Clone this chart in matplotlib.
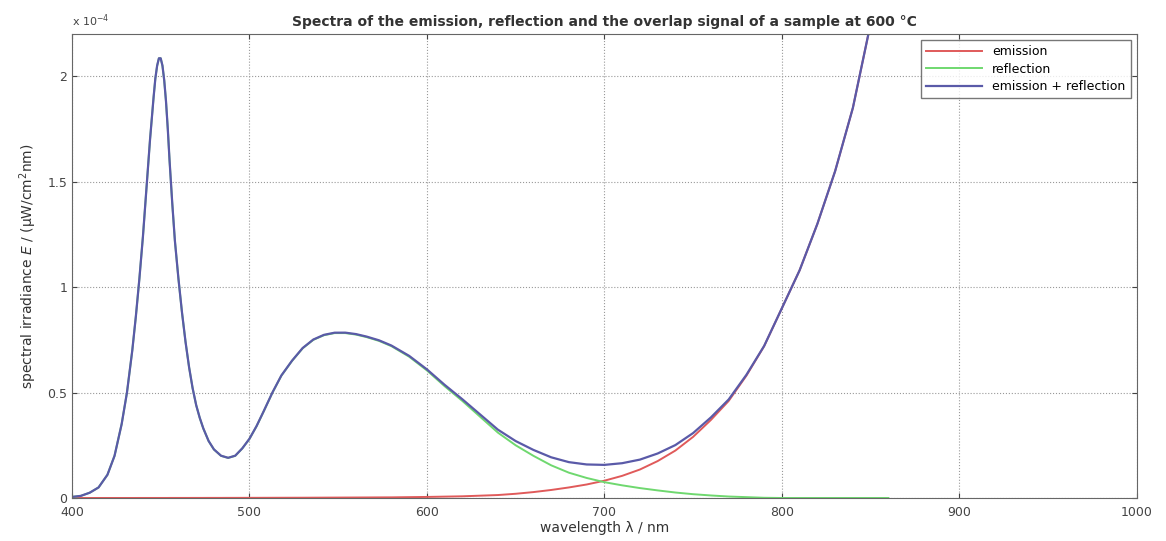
import numpy as np
import matplotlib
matplotlib.use("Agg")
import matplotlib.pyplot as plt

# wavelength grid (nm) and spectra in units of 1e-4 uW/(cm^2 nm)
wavelength = [400, 405, 410, 415, 420, 424, 428, 431, 434, 436,
              438, 440, 442, 444, 446, 447, 448, 449, 450, 451,
              452, 453, 454, 455, 456.5, 458, 460, 462, 464, 466,
              468, 470, 472, 474, 477, 480, 484, 488, 492, 496,
              500, 504, 508, 513, 518, 524, 530, 536, 542, 548,
              554, 560, 566, 573, 580, 590,
              600, 610, 620, 630, 640, 650, 660, 670, 680, 690,
              700, 710, 720, 730, 740, 750, 760, 770, 780, 790,
              800, 810, 820, 830, 840, 850, 860]

reflection = [0.005, 0.01, 0.025, 0.05, 0.11, 0.2, 0.35, 0.5, 0.7, 0.86,
              1.04, 1.24, 1.47, 1.7, 1.9, 1.99, 2.05, 2.085, 2.085, 2.05,
              1.98, 1.88, 1.75, 1.6, 1.4, 1.22, 1.04, 0.88, 0.74, 0.62,
              0.52, 0.44, 0.38, 0.33, 0.27, 0.23, 0.2, 0.19, 0.2, 0.235,
              0.28, 0.34, 0.41, 0.5, 0.58, 0.65, 0.71, 0.75, 0.772, 0.782,
              0.782, 0.775, 0.763, 0.745, 0.72, 0.67,
              0.605, 0.53, 0.46, 0.385, 0.31, 0.25, 0.2, 0.155, 0.12, 0.095,
              0.075, 0.06, 0.047, 0.036, 0.026, 0.018, 0.012, 0.007, 0.004, 0.001,
              0.0, 0.0, 0.0, 0.0, 0.0, 0.0, 0.0]

emission = [0.0, 0.0, 0.0, 0.0001, 0.0001, 0.0001, 0.0001, 0.0001, 0.0001, 0.0001,
            0.0002, 0.0002, 0.0002, 0.0002, 0.0002, 0.0002, 0.0002, 0.0002, 0.0002, 0.0002,
            0.0002, 0.0002, 0.0002, 0.0003, 0.0003, 0.0003, 0.0003, 0.0003, 0.0003, 0.0003,
            0.0004, 0.0004, 0.0004, 0.0004, 0.0005, 0.0005, 0.0005, 0.0006, 0.0006, 0.0007,
            0.0008, 0.0008, 0.0009, 0.001, 0.0011, 0.0012, 0.0013, 0.0015, 0.0017, 0.0019,
            0.0021, 0.0023, 0.0025, 0.0028, 0.003, 0.004,
            0.005, 0.0065, 0.008, 0.011, 0.014, 0.02, 0.028, 0.038, 0.05, 0.064,
            0.082, 0.105, 0.135, 0.175, 0.225, 0.29, 0.37, 0.46, 0.58, 0.72,
            0.9, 1.08, 1.3, 1.55, 1.85, 2.25, 2.7]

overlap = np.array(emission) + np.array(reflection)

fig = plt.figure(figsize=(11.66, 5.41), dpi=100)
ax = fig.add_axes([0.0617, 0.0795, 0.9133, 0.8575])

ax.plot(wavelength, emission, color="#e05a5a", lw=1.4, label="emission")
ax.plot(wavelength, reflection, color="#6fd86f", lw=1.4, label="reflection")
ax.plot(wavelength, overlap, color="#5a5aa8", lw=1.6, label="emission + reflection")

ax.set_xlim(400, 1000)
ax.set_ylim(0, 2.2)
ax.set_xticks([400, 500, 600, 700, 800, 900, 1000])
ax.set_yticks([0, 0.5, 1, 1.5, 2])
ax.set_yticklabels(["0", "0.5", "1", "1.5", "2"])
ax.tick_params(direction="in", top=True, right=True, labelsize=9, colors="#444444")
ax.tick_params(axis="x", pad=6)
ax.grid(True, linestyle=":", color="#999999", lw=0.8)
for s in ax.spines.values():
    s.set_color("#666666")

ax.set_title("Spectra of the emission, reflection and the overlap signal of a sample at 600 °C",
             fontsize=10, fontweight="bold", color="#333333", pad=6)
ax.set_xlabel("wavelength λ / nm", fontsize=10, color="#333333", labelpad=1)
ax.set_ylabel("spectral irradiance $E$ / (µW/cm$^2$nm)", fontsize=10, color="#333333", labelpad=6)
ax.text(0.0, 1.012, "x 10$^{-4}$", transform=ax.transAxes, fontsize=8, color="#444444",
        ha="left", va="bottom")

leg = ax.legend(loc="upper right", fontsize=9, frameon=True, fancybox=False,
                borderaxespad=0.5, handlelength=4.5, labelspacing=0.35)
leg.get_frame().set_edgecolor("#555555")

fig.savefig("out.png", dpi=100)
